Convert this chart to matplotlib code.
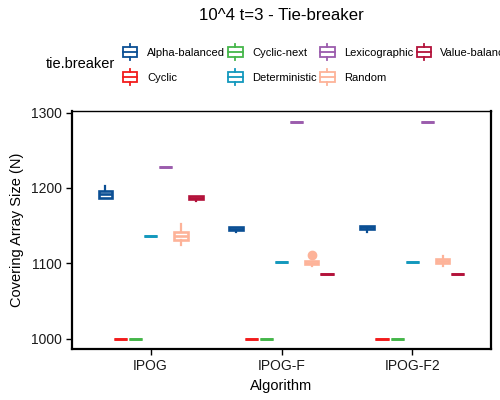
import numpy as np
import matplotlib
matplotlib.use("Agg")
import matplotlib.pyplot as plt
from matplotlib.legend_handler import HandlerBase
from matplotlib.patches import Rectangle
from matplotlib.lines import Line2D

plt.rcParams['font.family'] = ['Liberation Sans', 'DejaVu Sans']

algorithms = ['IPOG', 'IPOG-F', 'IPOG-F2']
tie_breakers = ['Alpha-balanced', 'Cyclic', 'Cyclic-next', 'Deterministic',
                'Lexicographic', 'Random', 'Value-balanced']
colors = ['#0b4f94', '#f21c1c', '#45b64a', '#1398bd',
          '#9b5cad', '#fdb399', '#b3123a']

# box stats per tie-breaker, one value per algorithm
med = {
    'Alpha-balanced': [1192, 1146, 1147.5],
    'Cyclic': [1000, 1000, 1000],
    'Cyclic-next': [1000, 1000, 1000],
    'Deterministic': [1136, 1102, 1102],
    'Lexicographic': [1228, 1288, 1288],
    'Random': [1136, 1101, 1103],
    'Value-balanced': [1187, 1086, 1086],
}
q1 = {
    'Alpha-balanced': [1187, 1144, 1145],
    'Cyclic': [1000, 1000, 1000],
    'Cyclic-next': [1000, 1000, 1000],
    'Deterministic': [1136, 1102, 1102],
    'Lexicographic': [1228, 1288, 1288],
    'Random': [1131, 1099, 1100],
    'Value-balanced': [1185, 1086, 1086],
}
q3 = {
    'Alpha-balanced': [1196, 1148, 1150],
    'Cyclic': [1000, 1000, 1000],
    'Cyclic-next': [1000, 1000, 1000],
    'Deterministic': [1136, 1102, 1102],
    'Lexicographic': [1228, 1288, 1288],
    'Random': [1141, 1103, 1106],
    'Value-balanced': [1189, 1086, 1086],
}
whis_lo = {
    'Alpha-balanced': [1187, 1142, 1142],
    'Cyclic': [1000, 1000, 1000],
    'Cyclic-next': [1000, 1000, 1000],
    'Deterministic': [1136, 1102, 1102],
    'Lexicographic': [1228, 1288, 1288],
    'Random': [1124, 1096, 1096],
    'Value-balanced': [1182, 1086, 1086],
}
whis_hi = {
    'Alpha-balanced': [1203, 1148, 1150],
    'Cyclic': [1000, 1000, 1000],
    'Cyclic-next': [1000, 1000, 1000],
    'Deterministic': [1136, 1102, 1102],
    'Lexicographic': [1228, 1288, 1288],
    'Random': [1152, 1103, 1109],
    'Value-balanced': [1189, 1086, 1086],
}
outliers = {
    'Random': [[], [1111], []],
}


class BoxKeyHandler(HandlerBase):
    def create_artists(self, legend, orig_handle, xdescent, ydescent,
                       width, height, fontsize, trans):
        c = orig_handle.get_edgecolor()
        bh = height * 0.95
        y0 = -ydescent + (height - bh) / 2
        rect = Rectangle((-xdescent, y0), width, bh, facecolor='white',
                         edgecolor=c, lw=1.3, transform=trans)
        mid = Line2D([-xdescent, -xdescent + width], [y0 + bh / 2] * 2,
                     color=c, lw=1.3, transform=trans)
        xm = -xdescent + width / 2
        top = Line2D([xm, xm], [y0 + bh, y0 + bh + height * 0.35],
                     color=c, lw=1.3, transform=trans)
        bot = Line2D([xm, xm], [y0, y0 - height * 0.35],
                     color=c, lw=1.3, transform=trans)
        return [rect, mid, top, bot]


fig = plt.figure(figsize=(5, 4), dpi=100)
ax = fig.add_axes([0.144, 0.1275, 0.838, 0.595])

base = np.arange(1, len(algorithms) + 1)
step = 0.115
bw = 0.105

for i, tb in enumerate(tie_breakers):
    stats = []
    for j in range(len(algorithms)):
        fl = outliers.get(tb, [[]] * len(algorithms))[j]
        stats.append(dict(med=med[tb][j], q1=q1[tb][j], q3=q3[tb][j],
                          whislo=whis_lo[tb][j], whishi=whis_hi[tb][j],
                          fliers=fl))
    pos = base + (i - 3) * step
    c = colors[i]
    ax.bxp(stats, positions=pos, widths=bw, showcaps=False,
           patch_artist=True, manage_ticks=False,
           boxprops=dict(facecolor='white', edgecolor=c, lw=1.9),
           medianprops=dict(color=c, lw=1.9),
           whiskerprops=dict(color=c, lw=1.6),
           flierprops=dict(marker='o', markerfacecolor=c,
                           markeredgecolor=c, markersize=6))

ax.set_xlim(0.4, 3.6)
ax.set_ylim(986.3, 1302)
ax.set_xticks(base)
ax.set_xticklabels(algorithms)
ax.set_yticks([1000, 1100, 1200, 1300])
ax.tick_params(axis='both', direction='out', length=4, width=1,
               color='black', labelsize=10, labelcolor='#1a1a1a')
for s in ax.spines.values():
    s.set_color('black')
    s.set_linewidth(1.0)
ax.spines['left'].set_linewidth(1.6)
ax.spines['bottom'].set_linewidth(1.6)
ax.spines['right'].set_linewidth(1.6)

ax.set_xlabel('Algorithm', fontsize=10.5, labelpad=4)
ax.set_ylabel('Covering Array Size (N)', fontsize=10.5, labelpad=5)

fig.text(0.563, 0.962, '10^4 t=3 - Tie-breaker', ha='center', va='center',
         fontsize=12.1)
fig.text(0.092, 0.84, 'tie.breaker', ha='left', va='center', fontsize=10.5)

handles = [Rectangle((0, 0), 1, 1, edgecolor=c, facecolor='white')
           for c in colors]
leg = fig.legend(handles, tie_breakers, ncol=4, loc='upper left',
                 bbox_to_anchor=(0.246, 0.882), frameon=False,
                 fontsize=8, handlelength=1.3, handleheight=1.0,
                 handletextpad=0.85, columnspacing=0.3, labelspacing=1.25,
                 borderpad=0, borderaxespad=0,
                 handler_map={Rectangle: BoxKeyHandler()})

fig.savefig('out.png', dpi=100)
